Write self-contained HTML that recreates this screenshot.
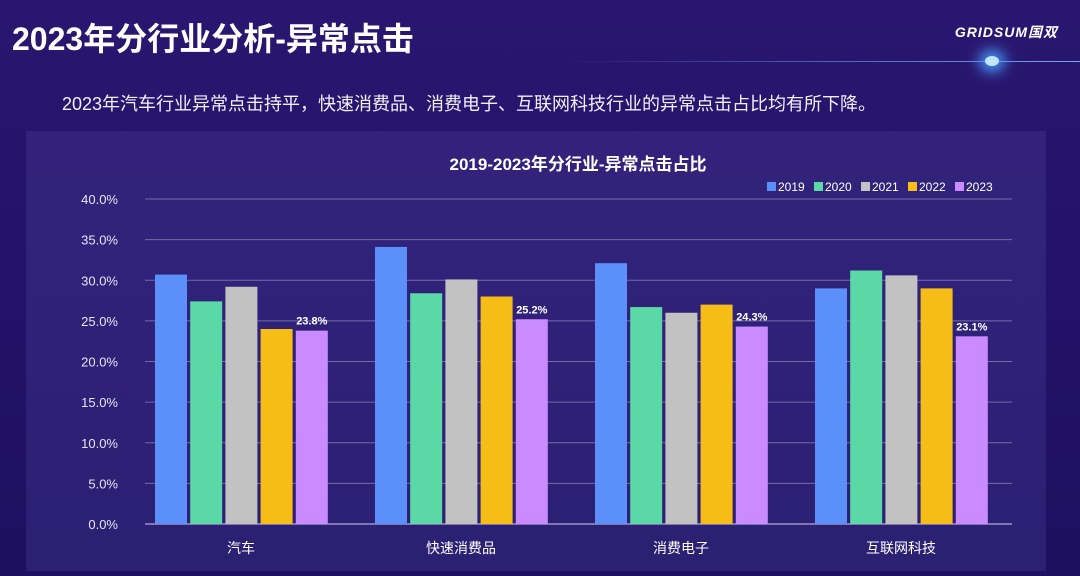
<!DOCTYPE html>
<html><head><meta charset="utf-8"><style>
body{margin:0;width:1080px;height:576px;overflow:hidden;font-family:"Liberation Sans","Noto Sans CJK SC",sans-serif;background:linear-gradient(180deg,#2a1670 0%,#24136a 40%,#1d1060 100%);position:relative;color:#fff}
.title{position:absolute;left:12px;top:14px;font-size:32px;font-weight:bold}
.sub{position:absolute;left:62px;top:90px;font-size:18px;color:#f0f0f8}
.logo{position:absolute;right:22px;top:22px;font-size:14px;font-weight:bold;font-style:italic;letter-spacing:1px}
.panel{position:absolute;left:26px;top:131px;width:1020px;height:440px;background:rgba(80,70,160,0.3)}
</style></head><body>
<div class="title">2023年分行业分析-异常点击</div>
<div class="logo">GRIDSUM国双</div>
<div style="position:absolute;left:560px;top:61px;width:520px;height:1px;background:linear-gradient(90deg,rgba(120,160,255,0),#6fa8ff)"></div>
<div style="position:absolute;left:985px;top:56px;width:14px;height:10px;border-radius:50%;background:#bfe4ff;box-shadow:0 0 14px 6px #4aa0ff"></div>
<div class="sub">2023年汽车行业异常点击持平，快速消费品、消费电子、互联网科技行业的异常点击占比均有所下降。</div>
<div class="panel"></div>
<svg id="chart" width="1080" height="576" style="position:absolute;left:0;top:0"></svg>
<script>
const categories=["汽车","快速消费品","消费电子","互联网科技"];
const years=["2019","2020","2021","2022","2023"];
const s2019=[30.7,34.1,32.1,29.0];
const s2020=[27.4,28.4,26.7,31.2];
const s2021=[29.2,30.1,26.0,30.6];
const s2022=[24.0,28.0,27.0,29.0];
const s2023=[23.8,25.2,24.3,23.1];
const ticks=[0,5,10,15,20,25,30,35,40];
const series=[s2019,s2020,s2021,s2022,s2023];
const colors=["#5b8ff9","#5ad8a6","#c2c2c2","#f6bd16","#c98bff"];
const svg=document.getElementById('chart');const NS="http://www.w3.org/2000/svg";
function mk(t,a,txt){const e=document.createElementNS(NS,t);for(const k in a)e.setAttribute(k,a[k]);if(txt!=null)e.textContent=txt;svg.appendChild(e);return e;}
const x0=145,x1=1012,yB=524,yT=199;
const y=v=>yB-(v/40)*(yB-yT);
const gw=220;
const bx=(c,s)=>x0+10+c*gw+s*35.2;
let t=mk('text',{x:578,y:170,'text-anchor':'middle','font-size':17,'font-weight':'bold',fill:'#fff'},'2019-2023年分行业-异常点击占比');


ticks.forEach(v=>{
 const l=mk('line',{x1:x0,x2:x1,y1:y(v),y2:y(v),stroke:v===0?'#cfcfe8':'rgba(200,200,230,0.45)','stroke-width':1});
 
 
 const tx=mk('text',{x:118,y:y(v)+5,'text-anchor':'end','font-size':13,fill:'#e6e6f2'},v.toFixed(1)+'%');
 
 
});
categories.forEach((c,ci)=>{
 const tx=mk('text',{x:bx(ci,0)+86,y:553,'text-anchor':'middle','font-size':14,fill:'#fff'},c);
 
 
 series.forEach((s,si)=>{
  const r=mk('rect',{x:bx(ci,si),y:y(s[ci]),width:32,height:yB-y(s[ci]),fill:colors[si]});
  
  
 });
 const lb=mk('text',{x:bx(ci,4)+16,y:y(s2023[ci])-6,'text-anchor':'middle','font-size':11,'font-weight':'bold',fill:'#fff'},s2023[ci].toFixed(1)+'%');
 
 
});
years.forEach((yr,i)=>{
 const lx=767+i*47;
 const r=mk('rect',{x:lx,y:182,width:9,height:9,fill:colors[i]});
 
 
 const tx=mk('text',{x:lx+11,y:191,'font-size':12,fill:'#fff'},yr);
 
 
});
</script>
</body></html>
